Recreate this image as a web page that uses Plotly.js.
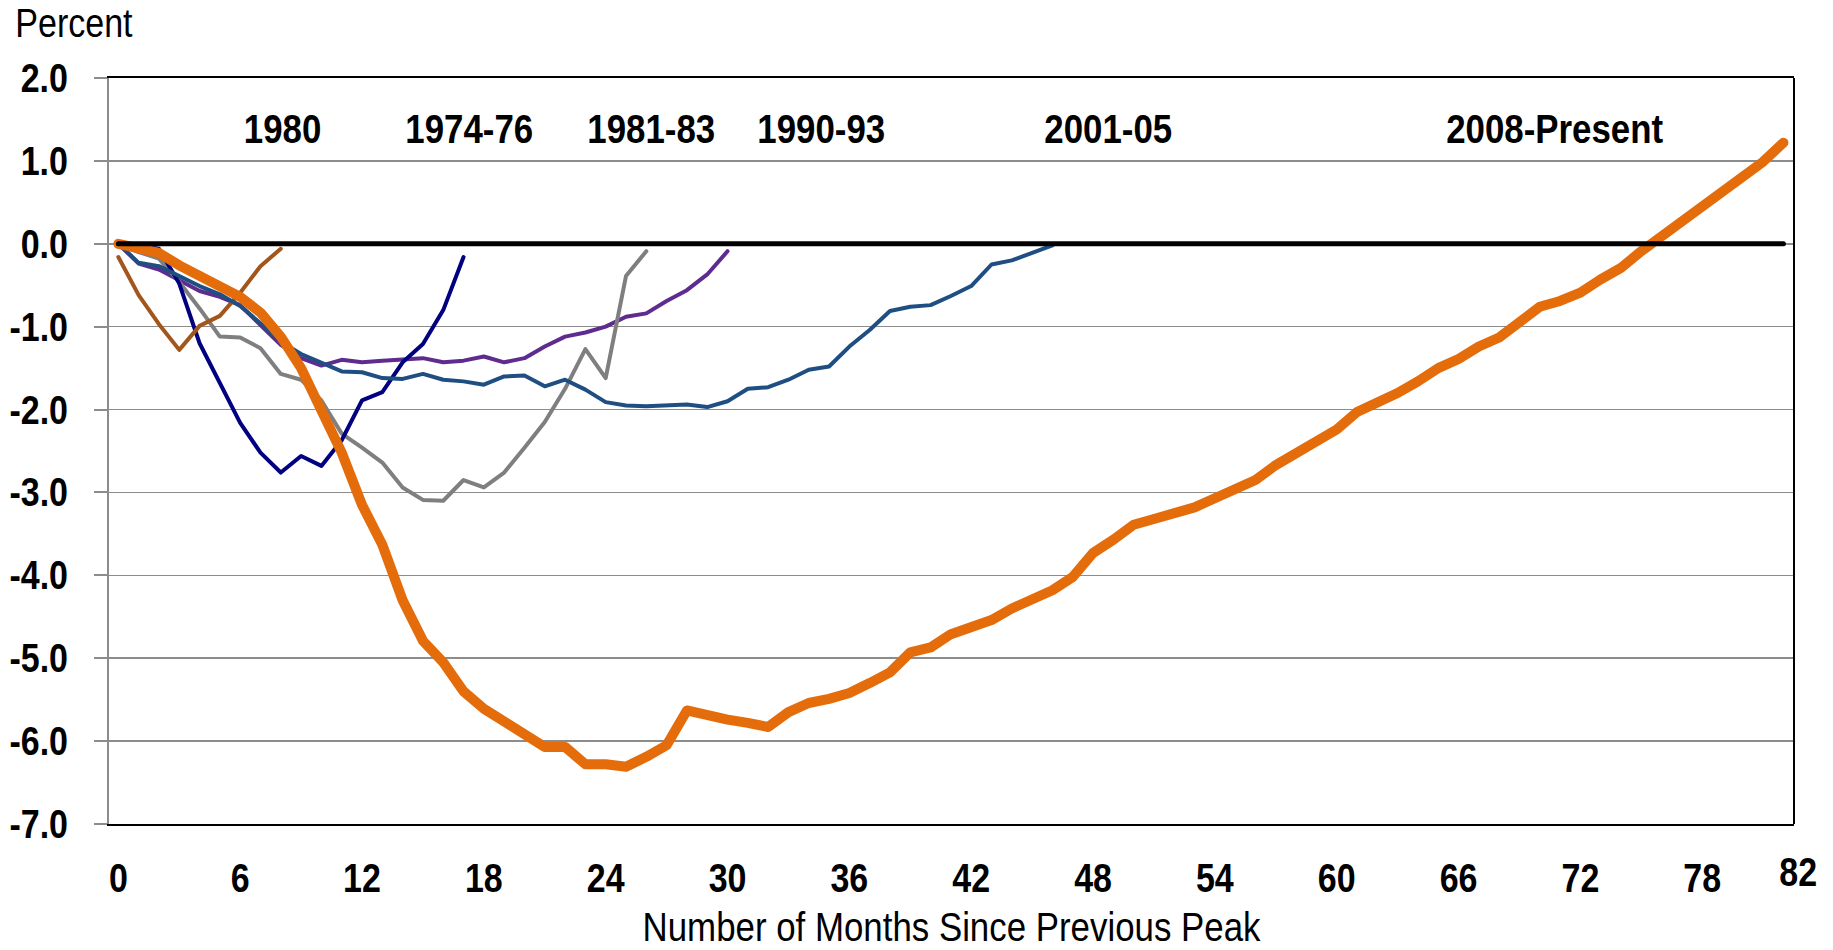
<!DOCTYPE html>
<html>
<head>
<meta charset="utf-8">
<script src="https://cdn.plot.ly/plotly-3.0.1.min.js"></script>
<style>
  html, body { margin: 0; padding: 0; background: #ffffff; }
  #chart { width: 1833px; height: 950px; }
  .js-line { stroke-linejoin: round !important; stroke-linecap: round !important; }
</style>
</head>
<body>
<div id="chart"></div>
<script>
// ---- data (percent change since previous peak, by month) ----
const seriesNames = ["1980", "1974-76", "1981-83", "1990-93", "2001-05", "2008-Present"];
const s1980 = [-0.16, -0.62, -0.97, -1.28, -0.99, -0.87, -0.59, -0.27, -0.06];
const s197476 = [0, -0.02, -0.06, -0.48, -1.20, -1.68, -2.16, -2.52, -2.76, -2.56, -2.68, -2.37, -1.89, -1.79, -1.43, -1.21, -0.80, -0.16];
const s198183 = [0, -0.10, -0.18, -0.46, -0.78, -1.12, -1.13, -1.26, -1.57, -1.64, -1.89, -2.29, -2.46, -2.64, -2.94, -3.09, -3.10, -2.85, -2.94, -2.76, -2.46, -2.15, -1.75, -1.27, -1.62, -0.39, -0.09];
const s199093 = [0, -0.24, -0.31, -0.44, -0.57, -0.64, -0.74, -0.98, -1.22, -1.38, -1.47, -1.40, -1.43, -1.41, -1.39, -1.38, -1.43, -1.41, -1.36, -1.43, -1.38, -1.24, -1.12, -1.07, -1.00, -0.88, -0.84, -0.69, -0.56, -0.37, -0.09];
const s200105 = [0, -0.23, -0.27, -0.39, -0.51, -0.61, -0.75, -0.96, -1.18, -1.33, -1.44, -1.54, -1.55, -1.62, -1.63, -1.57, -1.64, -1.66, -1.70, -1.60, -1.59, -1.72, -1.64, -1.76, -1.91, -1.95, -1.96, -1.95, -1.94, -1.97, -1.90, -1.75, -1.73, -1.64, -1.52, -1.48, -1.24, -1.04, -0.81, -0.76, -0.74, -0.63, -0.51, -0.25, -0.20, -0.11, -0.02];
const s2008 = [0, -0.05, -0.11, -0.26, -0.39, -0.49, -0.64, -0.83, -1.12, -1.50, -2.00, -2.52, -3.15, -3.63, -4.30, -4.79, -5.05, -5.40, -5.61, -5.76, -5.92, -6.07, -6.07, -6.28, -6.28, -6.31, -6.19, -6.05, -5.63, -5.70, -5.74, -5.78, -5.83, -5.65, -5.54, -5.49, -5.42, -5.30, -5.17, -4.93, -4.87, -4.71, -4.64, -4.54, -4.40, -4.29, -4.18, -4.02, -3.73, -3.57, -3.39, -3.32, -3.25, -3.18, -3.07, -2.96, -2.85, -2.67, -2.53, -2.38, -2.24, -2.03, -1.93, -1.80, -1.66, -1.50, -1.39, -1.24, -1.13, -0.94, -0.76, -0.69, -0.59, -0.43, -0.29, -0.09, 0.09, 0.29, 0.47, 0.63, 0.83, 0.99, 1.22];
const baseline = new Array(83).fill(0);

// label positions (month, percent) for the series labels
const labelMonths = [8.1, 17.25, 26.25, 34.6, 48.75, 70.75];
const labelLevel = 1.38;

// axis ticks
const xTickVals = [0, 6, 12, 18, 24, 30, 36, 42, 48, 54, 60, 66, 72, 78];
const xTickText = ["0", "6", "12", "18", "24", "30", "36", "42", "48", "54", "60", "66", "72", "78"];
const xEndLabel = "82";
const yTickVals = [-7, -6, -5, -4, -3, -2, -1, 0, 1, 2];
const yTickText = ["-7.0", "-6.0", "-5.0", "-4.0", "-3.0", "-2.0", "-1.0", "0.0", "1.0", "2.0"];

const FONT = "'Liberation Sans', Arial, sans-serif";
const CONDENSE = 0.85;   // narrow the glyphs, like the condensed face of the original
const months = n => Array.from({length: n}, (_, i) => i);

function line(y, color, width, name) {
  return { x: months(y.length), y: y, type: "scatter", mode: "lines", name: name,
           line: { color: color, width: width }, hoverinfo: "skip", showlegend: false };
}

const traces = [
  line(s199093, "#5f2b8f", 4, seriesNames[3]),
  line(s198183, "#7f7f7f", 4, seriesNames[2]),
  line(s197476, "#000080", 4, seriesNames[1]),
  line(s1980, "#a3561b", 4, seriesNames[0]),
  line(s200105, "#1f4e82", 4, seriesNames[4]),
  line(s2008, "#e46c0a", 10, seriesNames[5]),
  line(baseline, "#000000", 5, "zero")
];

const annotations = seriesNames.map((t, i) => ({
  x: labelMonths[i], y: labelLevel, xref: "x", yref: "y", text: t, showarrow: false,
  xanchor: "center", yanchor: "middle",
  font: { family: FONT, size: 41, color: "#000", weight: 700 }
}));
annotations.push({
  x: 1.0024, y: -0.064, xref: "paper", yref: "paper", text: xEndLabel, showarrow: false,
  xanchor: "center", yanchor: "middle",
  font: { family: FONT, size: 40, color: "#000", weight: 700 }
});
annotations.push({
  x: -0.0205, y: 1.0737, xref: "paper", yref: "paper", text: "Percent", showarrow: false,
  xanchor: "center", yanchor: "middle",
  font: { family: FONT, size: 40, color: "#000" }
});

const layout = {
  width: 1833, height: 950,
  margin: { l: 109, r: 39, t: 78, b: 126 },
  paper_bgcolor: "#ffffff", plot_bgcolor: "#ffffff",
  showlegend: false,
  xaxis: {
    range: [-0.46, 82.52], tickmode: "array", tickvals: xTickVals, ticktext: xTickText,
    ticks: "", showgrid: false, zeroline: false,
    showline: true, linecolor: "#000000", linewidth: 2, mirror: true,
    ticklabelstandoff: 18,
    tickfont: { family: FONT, size: 40, color: "#000", weight: 700 },
    title: { text: "Number of Months Since Previous Peak", standoff: 40,
             font: { family: FONT, size: 41, color: "#000" } }
  },
  yaxis: {
    range: [-7, 2], tickmode: "array", tickvals: yTickVals, ticktext: yTickText,
    showgrid: true, gridcolor: "#8c8c8c", gridwidth: 1.5, zeroline: false,
    showline: true, linecolor: "#8c8c8c", linewidth: 2,
    ticks: "outside", ticklen: 13, tickwidth: 2, tickcolor: "#8c8c8c",
    ticklabelstandoff: 18,
    tickfont: { family: FONT, size: 40, color: "#000", weight: 700 }
  },
  shapes: [
    { type: "line", xref: "paper", yref: "paper", x0: 1, x1: 1, y0: 0, y1: 1,
      line: { color: "#000000", width: 2 } }
  ],
  annotations: annotations
};

Plotly.newPlot("chart", traces, layout, { displayModeBar: false, staticPlot: true }).then(() => {
  document.querySelectorAll("#chart svg text").forEach(t => {
    const w = t.getComputedTextLength();
    if (w > 0) {
      t.setAttribute("textLength", (w * CONDENSE).toFixed(1));
      t.setAttribute("lengthAdjust", "spacingAndGlyphs");
    }
  });
});
</script>
</body>
</html>
